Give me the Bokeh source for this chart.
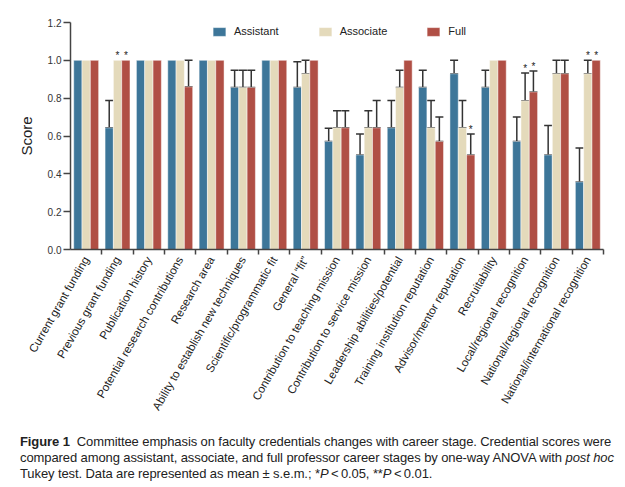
import math
import numpy as np
from bokeh.plotting import figure
from bokeh.models import (ColumnDataSource, Range1d, FixedTicker, PrintfTickFormatter,
                          Whisker, TeeHead, Legend, LegendItem, Div)
from bokeh.layouts import column
from bokeh.core.properties import value
from bokeh.embed import file_html
from bokeh.resources import INLINE

categories = [
    "Current grant funding", "Previous grant funding", "Publication history",
    "Potential research contributions", "Research area",
    "Ability to establish new techniques", "Scientific/programmatic fit",
    "General \u201cfit\u201d", "Contribution to teaching mission",
    "Contribution to service mission", "Leadership abilities/potential",
    "Training institution reputation", "Advisor/mentor reputation",
    "Recruitability", "Local/regional recognition",
    "National/regional recognition", "National/international recognition",
]

assistant = [1.0, 0.643, 1.0, 1.0, 1.0, 0.857, 1.0, 0.857, 0.571, 0.5, 0.643, 0.857, 0.929, 0.857, 0.571, 0.5, 0.357]
assistant_sem = [0.0, 0.145, 0.0, 0.0, 0.0, 0.09, 0.0, 0.135, 0.07, 0.11, 0.145, 0.09, 0.071, 0.09, 0.13, 0.156, 0.18]
associate = [1.0, 1.0, 1.0, 1.0, 1.0, 0.857, 1.0, 0.929, 0.643, 0.643, 0.857, 0.643, 0.643, 1.0, 0.786, 0.929, 0.929]
associate_sem = [0.0, 0.0, 0.0, 0.0, 0.0, 0.09, 0.0, 0.071, 0.09, 0.09, 0.09, 0.145, 0.145, 0.0, 0.147, 0.071, 0.071]
full = [1.0, 1.0, 1.0, 0.86, 1.0, 0.857, 1.0, 1.0, 0.643, 0.643, 1.0, 0.571, 0.5, 1.0, 0.833, 0.929, 1.0]
full_sem = [0.0, 0.0, 0.0, 0.14, 0.0, 0.09, 0.0, 0.0, 0.09, 0.145, 0.0, 0.13, 0.11, 0.0, 0.11, 0.071, 0.0]

assistant_sig = [""] * 17
associate_sig = ["", "*", "", "", "", "", "", "", "", "", "", "", "", "", "*", "", "*"]
full_sig = ["", "*", "", "", "", "", "", "", "", "", "", "", "*", "", "*", "", "*"]

series_names = ["Assistant", "Associate", "Full"]
colors = ["#3d7699", "#e4dabb", "#b04f45"]

y_ticks = [0.0, 0.2, 0.4, 0.6, 0.8, 1.0, 1.2]

FONT = "Liberation Sans"
n = len(categories)
idx = np.arange(n)

p = figure(width=609, height=418, output_backend="svg", toolbar_location=None,
           x_range=Range1d(-0.5, n - 0.5), y_range=Range1d(0, 1.2),
           min_border_left=70, min_border_right=6, min_border_top=22, min_border_bottom=0)
p.xgrid.visible = False
p.ygrid.visible = False
p.outline_line_color = None
p.background_fill_color = "white"

offsets = [-0.265, 0.0, 0.265]
bar_w = 0.265
series = [(assistant, assistant_sem, assistant_sig), (associate, associate_sem, associate_sig), (full, full_sem, full_sig)]
items = []
for k, ((vals, sems, sigs), name, col) in enumerate(zip(series, series_names, colors)):
    xs = idx + offsets[k]
    src = ColumnDataSource(dict(x=xs, top=vals))
    r = p.vbar(x="x", top="top", width=bar_w, source=src, fill_color=col,
               line_color="white", line_width=0.8, line_alpha=0.6)
    items.append(LegendItem(label=name, renderers=[r]))
    ex, el, eu = [], [], []
    for x, v, s in zip(xs, vals, sems):
        if s > 0:
            ex.append(x); el.append(v); eu.append(v + s)
    esrc = ColumnDataSource(dict(x=ex, lower=el, upper=eu))
    w = Whisker(source=esrc, base="x", lower="lower", upper="upper",
                line_color="#333333", line_width=1.5,
                upper_head=TeeHead(size=8, line_color="#333333", line_width=1.5),
                lower_head=TeeHead(size=8, line_color="#333333", line_width=1.5))
    p.add_layout(w)
    sx, sy, st = [], [], []
    for x, v, s, g in zip(xs, vals, sems, sigs):
        if g:
            sx.append(x); sy.append(v + s); st.append(g)
    ssrc = ColumnDataSource(dict(x=sx, y=sy, t=st))
    p.text(x="x", y="y", text="t", source=ssrc, text_align="center", text_baseline="middle",
           y_offset=-5, text_font=value(FONT), text_font_size="10px", text_color="#222222")

legend = Legend(items=items, orientation="horizontal", location=(141, 212),
                padding=0, margin=0, spacing=38, glyph_width=16, glyph_height=11,
                label_height=11, label_standoff=7, border_line_color=None,
                background_fill_alpha=0, label_text_font=FONT, label_text_font_size="11px",
                label_text_color="#222222")
p.add_layout(legend, "center")

# y axis
ya = p.yaxis[0]
ya.ticker = FixedTicker(ticks=y_ticks)
ya.formatter = PrintfTickFormatter(format="%.1f")
ya.axis_label = "Score"
ya.axis_label_text_font = FONT
ya.axis_label_text_font_size = "15px"
ya.axis_label_text_font_style = "normal"
ya.axis_label_text_color = "#222222"
ya.axis_label_standoff = 10
ya.major_label_text_font = FONT
ya.major_label_text_font_size = "10px"
ya.major_label_text_color = "#333333"
ya.major_label_standoff = 2
ya.axis_line_color = "#444444"
ya.axis_line_width = 1.5
ya.major_tick_line_color = "#444444"
ya.major_tick_line_width = 1.5
ya.major_tick_out = 7
ya.major_tick_in = 0
ya.minor_tick_line_color = None

# x axis
xa = p.xaxis[0]
xa.ticker = FixedTicker(ticks=list(idx), minor_ticks=[i + 0.5 for i in range(n)])
xa.major_label_overrides = {int(i): c for i, c in zip(idx, categories)}
xa.major_label_orientation = math.radians(60)
xa.major_label_text_font = FONT
xa.major_label_text_font_size = "11.5px"
xa.major_label_text_color = "#222222"
xa.major_label_standoff = 2
xa.major_tick_line_color = None
xa.axis_line_color = "#444444"
xa.axis_line_width = 1.5
xa.minor_tick_line_color = "#444444"
xa.minor_tick_line_width = 1.5
xa.minor_tick_out = 5
xa.minor_tick_in = 0

caption = Div(text=(
    "<div style=\"font-family:'Liberation Sans',sans-serif;"
    "font-size:13px;letter-spacing:-0.1px;line-height:16px;color:#222;white-space:nowrap;\">"
    "<b>Figure 1</b>&nbsp; Committee emphasis on faculty credentials changes with career stage. "
    "Credential scores were<br>compared among assistant, associate, and full professor career "
    "stages by one-way ANOVA with <i>post hoc</i><br>Tukey test. Data are represented as mean "
    "\u00b1 s.e.m.; *<i>P</i>&thinsp;&lt;&thinsp;0.05, **<i>P</i>&thinsp;&lt;&thinsp;0.01.</div>"),
    width=600, margin=(16, 0, 0, 20))

layout = column(p, caption, spacing=0)
open("out.html", "w").write(file_html(layout, INLINE))
